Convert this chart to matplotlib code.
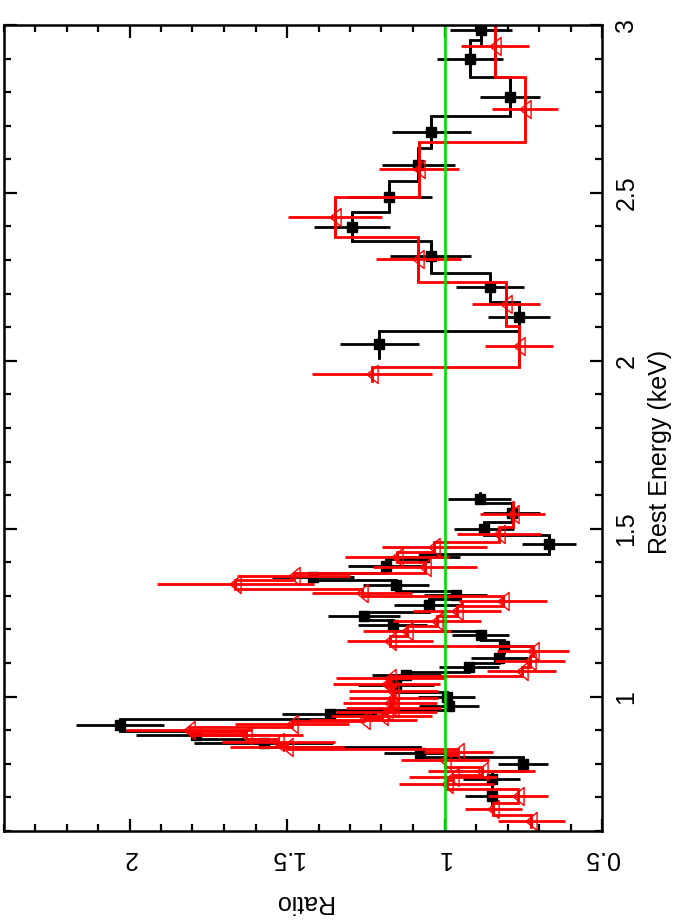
import matplotlib
matplotlib.use('Agg')
import matplotlib.pyplot as plt
from matplotlib.ticker import MultipleLocator, FuncFormatter
from matplotlib import font_manager
from matplotlib.path import Path

# ---------------- data ----------------
# black data set (filled squares), low-energy group
blk_lo_E = [0.705, 0.755, 0.800, 0.833, 0.862, 0.886, 0.916, 0.947, 0.973, 1.000,
            1.034, 1.064, 1.087, 1.115, 1.150, 1.183, 1.212, 1.240, 1.273, 1.303,
            1.332, 1.357, 1.390, 1.416, 1.455, 1.500, 1.548, 1.590]
blk_lo_dE = [0.025, 0.025, 0.020, 0.016, 0.013, 0.012, 0.018, 0.013, 0.013, 0.014,
             0.020, 0.010, 0.013, 0.015, 0.020, 0.013, 0.016, 0.013, 0.017, 0.013,
             0.016, 0.011, 0.020, 0.010, 0.025, 0.020, 0.028, 0.015]
blk_lo_R = [0.85, 0.85, 0.75, 1.078, 1.574, 1.79, 2.03, 1.365, 0.985, 0.993,
            1.154, 1.121, 0.922, 0.826, 0.81, 0.885, 1.164, 1.255, 1.05, 0.965,
            1.154, 1.417, 1.186, 1.065, 0.669, 0.875, 0.787, 0.888]
blk_lo_dR = [0.085, 0.09, 0.08, 0.115, 0.22, 0.19, 0.14, 0.15, 0.095, 0.09,
             0.12, 0.11, 0.095, 0.09, 0.09, 0.09, 0.11, 0.115, 0.11, 0.1,
             0.105, 0.13, 0.12, 0.115, 0.085, 0.095, 0.09, 0.1]

# black data set, high-energy group
blk_hi_E = [2.049, 2.131, 2.219, 2.311, 2.399, 2.489, 2.584, 2.682, 2.787, 2.899, 2.985]
blk_hi_dE = [0.040, 0.045, 0.044, 0.045, 0.045, 0.045, 0.050, 0.048, 0.057, 0.055, 0.045]
blk_hi_R = [1.207, 0.763, 0.855, 1.044, 1.294, 1.176, 1.083, 1.042, 0.791, 0.919, 0.885]
blk_hi_dR = [0.125, 0.099, 0.107, 0.128, 0.12, 0.135, 0.115, 0.125, 0.095, 0.104, 0.098]

# red data set (open triangles), low-energy group
red_lo_E = [0.630, 0.665, 0.705, 0.740, 0.760, 0.780, 0.810, 0.835, 0.850, 0.866,
            0.885, 0.902, 0.920, 0.932, 0.943, 0.955, 0.967, 0.980, 0.997, 1.018,
            1.038, 1.055, 1.075, 1.105, 1.135, 1.165, 1.195, 1.225, 1.255, 1.285,
            1.310, 1.335, 1.358, 1.386, 1.416, 1.446, 1.483, 1.543]
red_lo_dE = [0.018, 0.017, 0.020, 0.012, 0.008, 0.012, 0.015, 0.010, 0.006, 0.009,
             0.010, 0.008, 0.008, 0.005, 0.006, 0.006, 0.006, 0.008, 0.009, 0.011,
             0.009, 0.008, 0.012, 0.015, 0.015, 0.015, 0.015, 0.015, 0.015, 0.014,
             0.011, 0.013, 0.010, 0.016, 0.015, 0.015, 0.022, 0.037]
red_lo_R = [0.724, 0.845, 0.766, 0.993, 0.972, 0.882, 0.998, 0.956, 1.50, 1.527,
            1.63, 1.81, 1.484, 1.257, 1.199, 1.183, 1.162, 1.173, 1.162, 1.162,
            1.183, 1.173, 0.755, 0.729, 0.719, 1.173, 1.12, 1.025, 0.961, 0.814,
            1.262, 1.664, 1.479, 1.062, 1.151, 1.033, 0.826, 0.784]
red_lo_dR = [0.105, 0.09, 0.095, 0.15, 0.14, 0.17, 0.14, 0.11, 0.18, 0.18,
             0.18, 0.2, 0.18, 0.17, 0.16, 0.16, 0.15, 0.15, 0.14, 0.14,
             0.17, 0.17, 0.11, 0.11, 0.115, 0.135, 0.14, 0.14, 0.14, 0.14,
             0.16, 0.25, 0.18, 0.165, 0.165, 0.167, 0.133, 0.104]

# red data set, high-energy group
red_hi_E = [1.961, 2.043, 2.169, 2.302, 2.429, 2.571, 2.749, 2.938]
red_hi_dE = [0.021, 0.061, 0.065, 0.068, 0.060, 0.082, 0.097, 0.092]
red_hi_R = [1.231, 0.763, 0.805, 1.083, 1.347, 1.081, 0.745, 0.840]
red_hi_dR = [0.19, 0.107, 0.108, 0.135, 0.15, 0.126, 0.105, 0.109]

unity = 1.0
x_label = "Ratio"
y_label = "Rest Energy (keV)"

# ---------------- style ----------------
names = {f.name for f in font_manager.fontManager.ttflist}
fam = 'Liberation Sans Narrow' if 'Liberation Sans Narrow' in names else 'Liberation Sans'
plt.rcParams['font.family'] = [fam, 'DejaVu Sans']
FS = 20 if fam == 'Liberation Sans Narrow' else 18

fig = plt.figure(figsize=(6.78, 9.24), dpi=100)
W, H = 678.0, 924.0
L, Rr, T, B = 3.5, 602.0, 25.0, 831.0
ax = fig.add_axes([L / W, 1 - B / H, (Rr - L) / W, (B - T) / H])
ax.set_xlim(2.4, 0.5)
ax.set_ylim(0.6, 3.0)

LW = 2.0


def step_xy(E, dE, R):
    xs, ys = [], []
    for e, d, r in zip(E, dE, R):
        if not xs:
            xs.append(r); ys.append(e - d)
        else:
            xs.append(r); ys.append(ys[-1])
        xs.append(r); ys.append(e + d)
    return xs, ys


tri = Path([(-0.62, 0.0), (0.62, -1.0), (0.62, 1.0), (-0.62, 0.0)],
           [Path.MOVETO, Path.LINETO, Path.LINETO, Path.CLOSEPOLY])

# black
for E, dE, R, dR in [(blk_lo_E, blk_lo_dE, blk_lo_R, blk_lo_dR),
                     (blk_hi_E, blk_hi_dE, blk_hi_R, blk_hi_dR)]:
    xs, ys = step_xy(E, dE, R)
    ax.plot(xs, ys, color='black', lw=LW, zorder=2, solid_joinstyle='miter')
    ax.errorbar(R, E, xerr=dR, yerr=dE, fmt='none', ecolor='black',
                elinewidth=LW, capsize=0, zorder=2)
    ax.plot(R, E, 's', color='black', ms=7, zorder=3)

# red
for E, dE, R, dR in [(red_lo_E, red_lo_dE, red_lo_R, red_lo_dR),
                     (red_hi_E, red_hi_dE, red_hi_R, red_hi_dR)]:
    xs, ys = step_xy(E, dE, R)
    ax.plot(xs, ys, color='red', lw=LW, zorder=4, solid_joinstyle='miter')
    ax.errorbar(R, E, xerr=dR, yerr=dE, fmt='none', ecolor='red',
                elinewidth=LW, capsize=0, zorder=4)
    ax.plot(R, E, linestyle='none', marker=tri, ms=13, mfc='none',
            mec='red', mew=1.0, zorder=5)

ax.axvline(unity, color='#00dd00', lw=1.9, zorder=6)

# axes / ticks
for s in ax.spines.values():
    s.set_linewidth(1.8)
    s.set_zorder(7)
ax.xaxis.set_major_locator(MultipleLocator(0.5))
ax.xaxis.set_minor_locator(MultipleLocator(0.1))
ax.yaxis.set_major_locator(MultipleLocator(0.5))
ax.yaxis.set_minor_locator(MultipleLocator(0.1))
fmt = FuncFormatter(lambda v, p: '%g' % round(v, 3))
ax.xaxis.set_major_formatter(fmt)
ax.yaxis.set_major_formatter(fmt)
ax.tick_params(which='both', direction='in', top=True, bottom=True,
               left=True, right=True, width=1.6, labelsize=FS)
ax.tick_params(which='major', length=9)
ax.tick_params(which='minor', length=5)
ax.tick_params(axis='y', labelleft=False, labelright=True, pad=9)
ax.tick_params(axis='x', pad=11)
for lab in ax.get_yticklabels():
    lab.set_rotation(90)
    lab.set_va('center')
    lab.set_ha('left')
for lab in ax.get_xticklabels():
    lab.set_rotation(180)
    lab.set_ha('center')
    lab.set_va('top')

ax.yaxis.set_label_position('right')
ax.set_ylabel(y_label, rotation=90, fontsize=FS)
ax.yaxis.set_label_coords((660.0 - L) / (Rr - L), (B - 452.0) / (B - T))
ax.yaxis.label.set_ha('center')
ax.yaxis.label.set_va('center')
ax.set_xlabel(x_label, rotation=180, fontsize=FS, labelpad=14)

fig.savefig('out.png', dpi=100)
